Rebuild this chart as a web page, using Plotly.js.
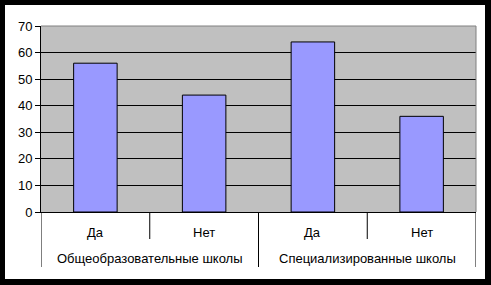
<!DOCTYPE html>
<html><head><meta charset="utf-8">
<script src="https://cdn.plot.ly/plotly-3.0.1.min.js"></script>
<style>html,body{margin:0;padding:0;background:#000;width:491px;height:285px;overflow:hidden}
#c{position:absolute;left:5px;top:5px;width:480px;height:274px}</style>
</head><body><div id="c"></div>
<script>
const groupNames = ["Общеобразовательные школы","Специализированные школы"];
const groups = ["Общеобразовательные школы","Общеобразовательные школы","Специализированные школы","Специализированные школы"];
const answers = ["Да","Нет","Да","Нет"];
const values = [56,44,64,36];
const yTicks = [0,10,20,30,40,50,60,70];

const cats = groups.map((g,i)=>g+'|'+answers[i]);
const H = 186; // plot height px, for offsets below axis
const px = v => -v/H;

const annotations = [];
answers.forEach((a,i)=>annotations.push({x:i,xref:'x',y:px(21),yref:'paper',text:a,showarrow:false,yanchor:'middle',xanchor:'center'}));
groupNames.forEach((g,j)=>annotations.push({x:j*2+0.5,xref:'x',y:px(46),yref:'paper',text:g,showarrow:false,yanchor:'middle',xanchor:'center'}));

const shapes = [
  {type:'line',xref:'paper',yref:'paper',x0:0,x1:1,y0:1,y1:1,line:{color:'#808080',width:1}},
  {type:'line',xref:'paper',yref:'paper',x0:1,x1:1,y0:0,y1:1,line:{color:'#808080',width:1}}
];
for(let k=0;k<=cats.length;k++){
  const outer = (k%2===0);
  shapes.push({type:'line',xref:'x',yref:'paper',x0:k-0.5,x1:k-0.5,y0:0,y1:px(outer?55:27),line:{color:'#000',width:1}});
}

Plotly.newPlot('c',[{
  type:'bar', x:cats, y:values,
  marker:{color:'#9999FF',line:{color:'#000',width:1}},
  hoverinfo:'none'
}],{
  width:480,height:274,
  margin:{l:36,r:9,t:21,b:67},
  paper_bgcolor:'#fff', plot_bgcolor:'#C0C0C0',
  bargap:0.6, showlegend:false,
  font:{family:'Liberation Sans, Arial, sans-serif',size:13,color:'#000'},
  xaxis:{type:'category',range:[-0.5,cats.length-0.5],showline:true,linecolor:'#000',linewidth:1,
    showticklabels:false,ticks:'',showgrid:false},
  yaxis:{range:[0,70],tickvals:yTicks,showline:true,linecolor:'#000',linewidth:1,
    gridcolor:'#000',gridwidth:1,ticks:'outside',ticklen:5,tickcolor:'#000',
    zeroline:false,tickfont:{size:13,color:'#000'}},
  annotations, shapes
},{staticPlot:true});
</script></body></html>
